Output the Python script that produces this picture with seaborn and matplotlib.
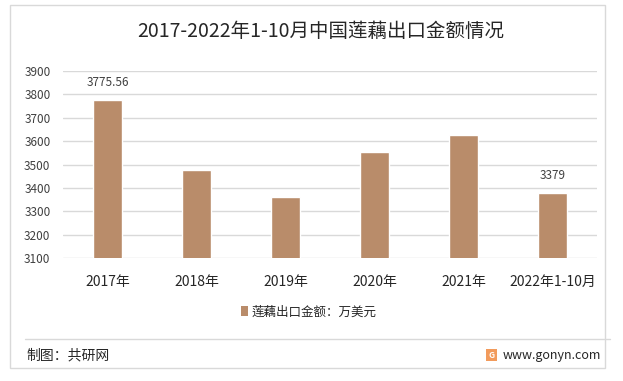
import matplotlib
matplotlib.use("Agg")
import matplotlib.pyplot as plt
import seaborn as sns
import pandas as pd
from matplotlib.patches import Rectangle, Patch
from matplotlib.lines import Line2D

categories = ["2017年", "2018年", "2019年", "2020年", "2021年", "2022年1-10月"]
values = [3775.56, 3476, 3362, 3553, 3626, 3379]
labels_shown = {0: "3775.56", 5: "3379"}
yticks = [3100, 3200, 3300, 3400, 3500, 3600, 3700, 3800, 3900]
title = "2017-2022年1-10月中国莲藕出口金额情况"
legend_label = "莲藕出口金额：万美元"
source = "制图：共研网"
site = "www.gonyn.com"

sns.set_style("white")
plt.rcParams["font.family"] = ["Noto Sans CJK SC", "DejaVu Sans"]

W, H = 623, 381
fig = plt.figure(figsize=(W / 100, H / 100), dpi=100)
fig.patch.set_facecolor("white")

def fx(x):
    return x / W

def fy(y):
    return 1 - y / H

# outer border
fig.add_artist(Rectangle((fx(10), fy(368)), fx(605) - fx(10), fy(5) - fy(368),
                         transform=fig.transFigure, fill=False,
                         edgecolor="#D9D9D9", linewidth=1.0))

ax = fig.add_axes([fx(63), fy(258), fx(597) - fx(63), fy(71) - fy(258)])
df = pd.DataFrame({"cat": categories, "val": values})
color = "#B98C6A"
sns.barplot(data=df, x="cat", y="val", color=color, width=0.315,
            saturation=1, ax=ax, zorder=3)
ax.set_ylim(3100, 3900)
ax.set_yticks(yticks)
ax.set_yticklabels([str(t) for t in yticks], fontsize=8.5, color="#404040")
ax.set_xlabel("")
ax.set_ylabel("")
ax.tick_params(axis="x", labelsize=10, colors="#262626", length=0, pad=12)
ax.tick_params(axis="y", length=0, pad=9)
for s in ax.spines.values():
    s.set_visible(False)
ax.grid(axis="y", color="#D9D9D9", linewidth=1.0, zorder=0)
ax.set_axisbelow(True)

for i, txt in labels_shown.items():
    ax.annotate(txt, (i, values[i]), xytext=(0, 8), textcoords="offset points",
                ha="center", va="bottom", fontsize=8.5, color="#404040")

fig.text(fx(321), fy(31), title, ha="center", va="center", fontsize=14,
         color="#262626")

handle = Patch(facecolor=color, edgecolor="none")
fig.legend([handle], [legend_label], loc="center", bbox_to_anchor=(fx(309), fy(312)),
           frameon=False, fontsize=9, handlelength=0.55, handleheight=0.85,
           handletextpad=0.3, labelcolor="#262626")

# separator line
fig.add_artist(Line2D([fx(25), fx(610)], [fy(339), fy(339)], transform=fig.transFigure,
                      color="#D9D9D9", linewidth=1.0))

fig.text(fx(26), fy(355), source, ha="left", va="center", fontsize=10, color="#262626")
fig.add_artist(Rectangle((fx(486), fy(361)), fx(11), fy(349) - fy(361),
                         transform=fig.transFigure, facecolor="#F29B5C", edgecolor="none"))
fig.text(fx(491.5), fy(355), "G", ha="center", va="center", fontsize=6,
         color="white", fontweight="bold")
fig.text(fx(601), fy(355), site, ha="right", va="center", fontsize=9, color="#262626")

fig.savefig("out.png", dpi=100, facecolor="white")
